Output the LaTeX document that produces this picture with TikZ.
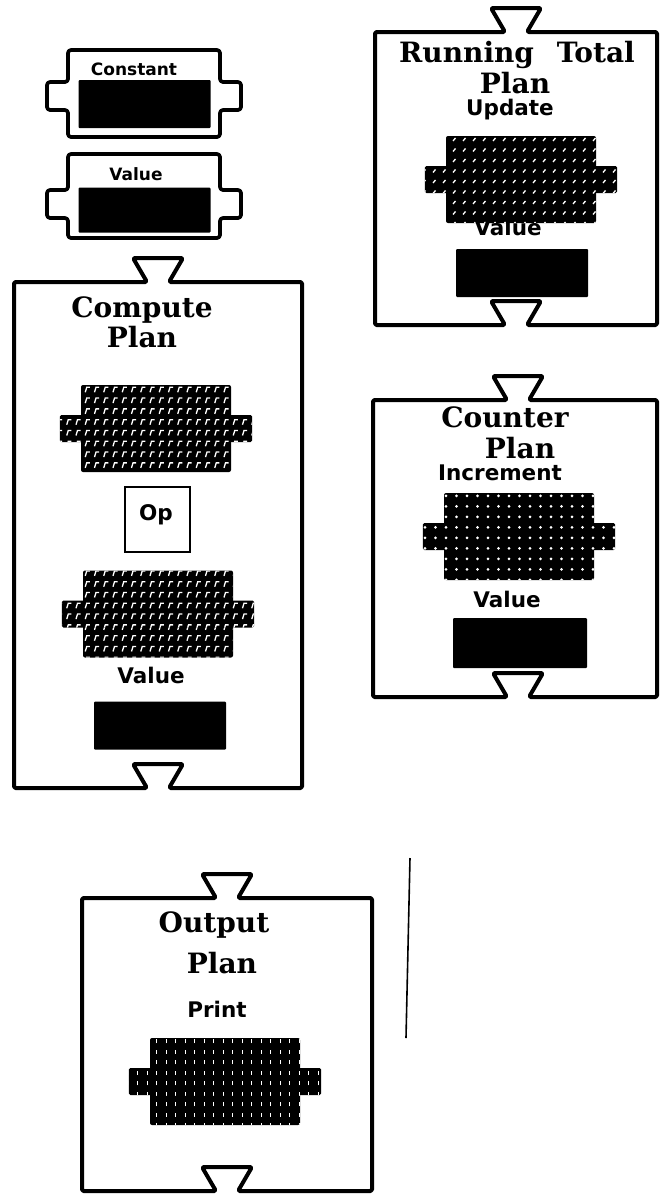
\documentclass[tikz,border=0pt]{standalone}
\usepackage{fontspec}
\setmainfont{DejaVu Serif}
\setsansfont{DejaVu Sans}
\usetikzlibrary{patterns}

% white marks on the black plug blocks
\pgfdeclarepatternformonly{rmarks}{\pgfqpoint{-1pt}{-1pt}}{\pgfqpoint{10pt}{11.5pt}}{\pgfqpoint{9.25pt}{10.8pt}}{%
  \pgfsetlinewidth{1.3pt}
  \pgfpathmoveto{\pgfqpoint{2pt}{2.5pt}}
  \pgfpathlineto{\pgfqpoint{3.5pt}{7.5pt}}
  \pgfpathlineto{\pgfqpoint{6.5pt}{7.5pt}}
  \pgfusepath{stroke}}
\pgfdeclarepatternformonly{slashmarks}{\pgfqpoint{-1pt}{-1pt}}{\pgfqpoint{11pt}{11pt}}{\pgfqpoint{10pt}{10.5pt}}{%
  \pgfsetlinewidth{1.3pt}
  \pgfpathmoveto{\pgfqpoint{3pt}{3pt}}
  \pgfpathlineto{\pgfqpoint{5.5pt}{6pt}}
  \pgfusepath{stroke}}
\pgfdeclarepatternformonly{dotmarks}{\pgfqpoint{-1pt}{-1pt}}{\pgfqpoint{11pt}{11pt}}{\pgfqpoint{10.5pt}{10.5pt}}{%
  \pgfpathcircle{\pgfqpoint{5pt}{5pt}}{1.5pt}
  \pgfusepath{fill}}
\pgfdeclarepatternformonly{barmarks}{\pgfqpoint{-1pt}{-1pt}}{\pgfqpoint{10pt}{11pt}}{\pgfqpoint{9.5pt}{10.5pt}}{%
  \pgfsetlinewidth{1pt}
  \pgfpathmoveto{\pgfqpoint{4.5pt}{3.5pt}}
  \pgfpathlineto{\pgfqpoint{4.5pt}{7.5pt}}
  \pgfusepath{stroke}}

% plan outline: dovetail on top, socket at the bottom
\newcommand{\planframe}[5]{%
  \draw[planline] (#1,#2) -- (#5-11,#2) -- (#5-25,#2-24) -- (#5+25,#2-24) -- (#5+11,#2)
    -- (#3,#2) -- (#3,#4) -- (#5+11,#4) -- (#5+25,#4-24) -- (#5-25,#4-24) -- (#5-11,#4)
    -- (#1,#4) -- cycle;}
% small chip outline with side tabs
\newcommand{\chipframe}[3]{%
  \draw[chipline] (68,#1) -- (220,#1) -- (220,#3) -- (241,#3) -- (241,#3+28) -- (220,#3+28)
    -- (220,#2) -- (68,#2) -- (68,#3+28) -- (47,#3+28) -- (47,#3) -- (68,#3) -- cycle;}
% black block with side tabs
\newcommand{\plugblock}[3]{%
  \node[plug, pattern=#3] (#1) at (#2) {};
  \path[plug tab, pattern=#3] ([shift={(-21pt,13.5pt)}]#1.west) rectangle ([shift={(21pt,-13.5pt)}]#1.east);}

\begin{document}
\begin{tikzpicture}[x=1pt, y=-1pt]
\tikzstyle{planline} = [draw, line width=4pt, line join=round, rounded corners=1.5pt]
\tikzstyle{chipline} = [draw, line width=3.7pt, line join=round, rounded corners=3pt]
\tikzstyle{plug} = [rectangle, rounded corners=2pt, preaction={fill=black}, pattern color=white,
minimum width=150pt, minimum height=87pt, inner sep=0pt]
\tikzstyle{plug tab} = [rounded corners=1.5pt, preaction={fill=black}, pattern color=white]
\tikzstyle{slot} = [rectangle, fill=black, rounded corners=1pt, minimum width=132pt,
minimum height=48pt, inner sep=0pt]
\tikzstyle{opbox} = [rectangle, draw, line width=2.2pt, minimum width=65pt, minimum height=65pt];
\tikzstyle{plantitle} = [font=\fontsize{28}{30}\selectfont\bfseries, inner sep=0pt, anchor=base];
\tikzstyle{tag} = [font=\fontsize{21.5}{24}\selectfont\sffamily\bfseries, inner sep=0pt, anchor=base];
\tikzstyle{smalltag} = [tag, font=\fontsize{17}{19}\selectfont\sffamily\bfseries];

\useasboundingbox (0,0) rectangle (660,1194);

% chips
\chipframe{50}{137}{82}
\node[slot] (cslot) at (144.5,104) {};
\node[smalltag] (cname) at (134,75) {Constant};
\chipframe{154}{238}{190}
\node[slot, minimum height=45pt] (vslot) at (144.5,210) {};
\node[smalltag] (vname) at (136,180) {Value};

% running total
\planframe{375}{32}{657}{325}{516}
\node[plantitle] (rt1) at (517,62) {Running\hspace{13pt} Total};
\node[plantitle] (rt2) at (515,93) {Plan};
\node[tag] (rtop) at (510,115) {Update};
\plugblock{rtplug}{521,179.5}{slashmarks}
\node[tag] (rtval) at (508,235) {Value};
\node[slot] (rtslot) at (522,273) {};

% compute
\planframe{14}{282}{302}{788}{158}
\node[plantitle] (cp1) at (142,317) {Compute};
\node[plantitle] (cp2) at (142,347) {Plan};
\plugblock{cplug1}{156,428.5}{rmarks}
\node[opbox] (op) at (157.5,519.5) {};
\node[tag] (optext) at (156,520) {Op};
\plugblock{cplug2}{158,614}{rmarks}
\node[tag] (cpval) at (151,683) {Value};
\node[slot] (cpslot) at (160,725.5) {};

% counter
\planframe{373}{400}{657}{697}{518}
\node[plantitle] (cn1) at (505,427) {Counter};
\node[plantitle] (cn2) at (520,458) {Plan};
\node[tag] (cnop) at (500,480) {Increment};
\plugblock{cnplug}{519,536.5}{dotmarks}
\node[tag] (cnval) at (507,607) {Value};
\node[slot, minimum width=134pt, minimum height=50pt] (cnslot) at (520,643) {};

% output
\planframe{82}{898}{372}{1191}{227}
\node[plantitle] (out1) at (214,932) {Output};
\node[plantitle] (out2) at (222,973) {Plan};
\node[tag] (outop) at (217,1017) {Print};
\plugblock{outplug}{225,1081.5}{barmarks}

% pen stroke
\coordinate (penA) at (410,858);
\coordinate (penB) at (406,1038);
\draw[line width=1.6pt] (penA) -- (penB);
\end{tikzpicture}
\end{document}
